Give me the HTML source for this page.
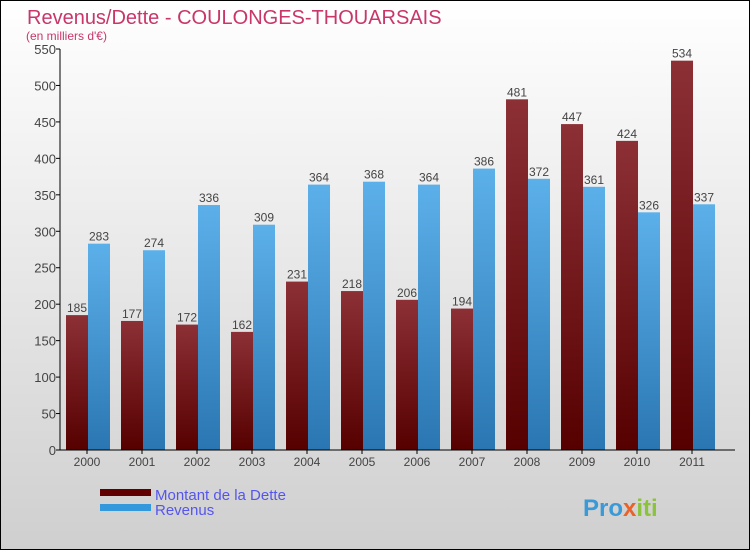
<!DOCTYPE html>
<html><head><meta charset="utf-8"><style>
body{margin:0}
svg text{font-family:"Liberation Sans",sans-serif}
</style></head><body>
<svg id="c" width="750" height="550" xmlns="http://www.w3.org/2000/svg">
<defs>
<linearGradient id="bg" x1="0" y1="0" x2="0" y2="1"><stop offset="0" stop-color="#ffffff"/><stop offset="1" stop-color="#cfcfcf"/></linearGradient>
<linearGradient id="gd" x1="0" y1="0" x2="0" y2="1"><stop offset="0" stop-color="#8c3036"/><stop offset="1" stop-color="#560000"/></linearGradient>
<linearGradient id="gr" x1="0" y1="0" x2="0" y2="1"><stop offset="0" stop-color="#5cb0ea"/><stop offset="1" stop-color="#2a76b2"/></linearGradient>
</defs>
<rect x="0.5" y="0.5" width="749" height="549" fill="url(#bg)" stroke="#000"/>
<text x="27" y="24" font-size="20" fill="#c8366a">Revenus/Dette - COULONGES-THOUARSAIS</text>
<text x="26" y="40" font-size="12" fill="#c8366a">(en milliers d'€)</text>
<g id="plot"></g>
<rect x="100" y="489" width="51" height="7" fill="#600000"/>
<text x="155" y="500" font-size="15" fill="#5555ee">Montant de la Dette</text>
<rect x="100" y="504" width="51" height="7" fill="#3498dd"/>
<text x="155" y="515" font-size="15" fill="#5555ee">Revenus</text>
<text x="583" y="516" font-size="24" font-weight="bold" fill="#3a9ad8">Pro<tspan fill="#e8622a">x</tspan><tspan fill="#8bc43c">iti</tspan></text>
</svg>
<script>
const years=["2000","2001","2002","2003","2004","2005","2006","2007","2008","2009","2010","2011"];
const dette=[185,177,172,162,231,218,206,194,481,447,424,534];
const revenus=[283,274,336,309,364,368,364,386,372,361,326,337];
const yTicks=[0,50,100,150,200,250,300,350,400,450,500,550];
const NS="http://www.w3.org/2000/svg";
const g=document.getElementById('plot');
const y0=450,yTop=49,yMax=550,xL=60,xR=735;
const y=v=>y0-(v/yMax)*(y0-yTop);
const cx=i=>87+i*((xR-xL)/years.length*0.9778);
function mk(t,a){const e=document.createElementNS(NS,t);for(const k in a)e.setAttribute(k,a[k]);g.appendChild(e);return e;}
yTicks.forEach(v=>{
 const l=mk('line',{x1:xL-4,x2:xL,y1:y(v),y2:y(v),stroke:'#000'});
 
 
 const t=mk('text',{x:xL-4,y:y(v)+5,'text-anchor':'end','font-size':13,fill:'#444'});t.textContent=v;
 
 
});
years.forEach((yr,i)=>{
 const c=cx(i);
 const d=mk('rect',{x:c-21,y:y(dette[i]),width:22,height:y0-y(dette[i]),fill:'url(#gd)'});
 
 
 const r=mk('rect',{x:c+1,y:y(revenus[i]),width:22,height:y0-y(revenus[i]),fill:'url(#gr)'});
 
 
 const t1=mk('text',{x:c-10,y:y(dette[i])-3,'text-anchor':'middle','font-size':12,fill:'#444'});t1.textContent=dette[i];
 
 
 const t2=mk('text',{x:c+12,y:y(revenus[i])-3,'text-anchor':'middle','font-size':12,fill:'#444'});t2.textContent=revenus[i];
 
 
 const tk=mk('line',{x1:c,x2:c,y1:y0,y2:y0+4,stroke:'#000'});
 
 
 const xl=mk('text',{x:c,y:y0+16,'text-anchor':'middle','font-size':12,fill:'#444'});xl.textContent=yr;
 
 
});
const ya=mk('line',{x1:xL,x2:xL,y1:yTop,y2:y0,stroke:'#000'});


const xa=mk('line',{x1:xL,x2:xR,y1:y0,y2:y0,stroke:'#000'});


</script>
</body></html>
